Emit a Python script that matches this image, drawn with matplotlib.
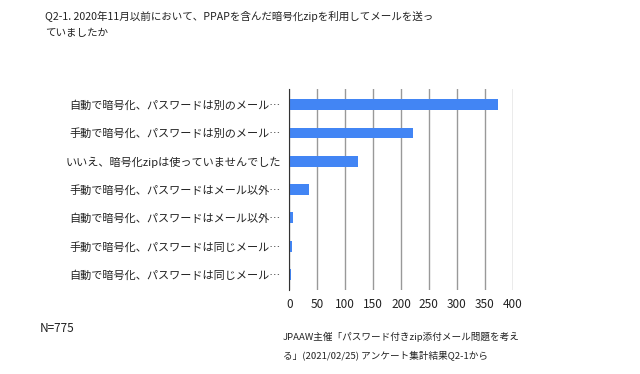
import matplotlib
matplotlib.use("Agg")
import matplotlib.pyplot as plt

plt.rcParams['font.family'] = ['Noto Sans CJK JP', 'DejaVu Sans']

categories = [
    "自動で暗号化、パスワードは別のメール…",
    "手動で暗号化、パスワードは別のメール…",
    "いいえ、暗号化zipは使っていませんでした",
    "手動で暗号化、パスワードはメール以外…",
    "自動で暗号化、パスワードはメール以外…",
    "手動で暗号化、パスワードは同じメール…",
    "自動で暗号化、パスワードは同じメール…",
]
values = [373, 221, 123, 36, 7, 5, 3]
xticks = [0, 50, 100, 150, 200, 250, 300, 350, 400]

title = "Q2-1. 2020年11月以前において、PPAPを含んだ暗号化zipを利用してメールを送っ\nていましたか"
note_n = "N=775"
source = "JPAAW主催「パスワード付きzip添付メール問題を考え\nる」(2021/02/25) アンケート集計結果Q2-1から"

fig = plt.figure(figsize=(6.4, 3.74), dpi=100)
ax = fig.add_axes([0.452, 0.2246, 0.349, 0.5374])

ypos = list(range(len(categories)))
ax.barh(ypos, values, height=0.38, color="#4285f4", zorder=3)
ax.set_ylim(len(categories) - 0.45, -0.55)
ax.set_xlim(0, 400)
ax.set_xticks(xticks)
ax.set_xticklabels([str(t) for t in xticks], fontsize=8.5, color="#222222")
ax.set_yticks(ypos)
ax.set_yticklabels(categories, fontsize=8, color="#222222")
ax.tick_params(axis='both', length=0, pad=6)
ax.grid(axis='x', color="#999999", linewidth=1, zorder=0)
for s in ['top', 'right', 'bottom']:
    ax.spines[s].set_visible(False)
ax.spines['left'].set_color("#333333")
ax.spines['left'].set_zorder(4)

fig.text(45/640, 1 - 11/374, title, fontsize=7.6, va='top', ha='left', color="#222222", linespacing=1.75)
fig.text(40/640, 1 - 328/374, note_n, fontsize=8.5, va='center', ha='left', color="#222222")
fig.text(283/640, 1 - 332/374, source, fontsize=6.9, va='top', ha='left', color="#222222", linespacing=2.0)

fig.savefig("out.png", dpi=100, facecolor="white")
